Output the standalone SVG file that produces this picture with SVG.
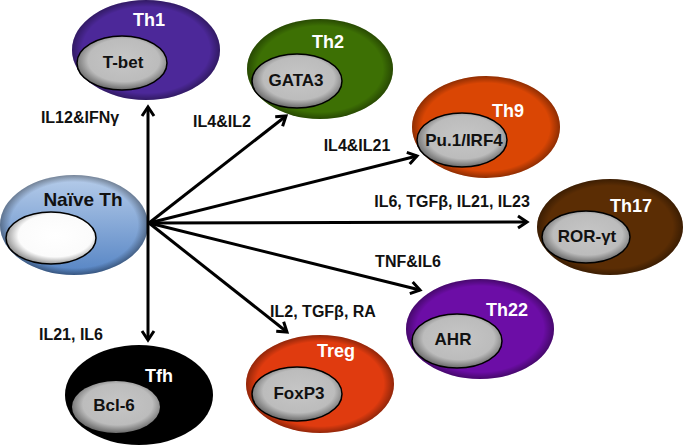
<svg xmlns="http://www.w3.org/2000/svg" width="685" height="445" viewBox="0 0 685 445">
<defs>
<radialGradient id="rim" cx="0.5" cy="0.5" r="0.5">
<stop offset="0.86" stop-color="#000" stop-opacity="0"/>
<stop offset="1" stop-color="#000" stop-opacity="0.35"/>
</radialGradient>
<radialGradient id="grey" cx="0.52" cy="0.45" r="0.55">
<stop offset="0" stop-color="#c6c6c6"/>
<stop offset="0.72" stop-color="#bcbcbc"/>
<stop offset="1" stop-color="#6a6a6a"/>
</radialGradient>
<radialGradient id="white" cx="0.55" cy="0.45" r="0.55">
<stop offset="0" stop-color="#ffffff"/>
<stop offset="0.75" stop-color="#fbfbfb"/>
<stop offset="1" stop-color="#9a9a9a"/>
</radialGradient>
<linearGradient id="blue" x1="0" y1="0" x2="0" y2="1">
<stop offset="0" stop-color="#b7cdea"/>
<stop offset="1" stop-color="#5584c4"/>
</linearGradient>
<marker id="ah" viewBox="-2 -8 14 16" refX="9" refY="0" markerWidth="14" markerHeight="16" markerUnits="userSpaceOnUse" orient="auto-start-reverse">
<path d="M0,-6 L9,0 L0,6" fill="none" stroke="#000" stroke-width="3"/>
</marker>
<style>
.rim{fill:url(#rim)}
.in{fill:url(#grey);stroke:#000;stroke-width:1.5}
.nt{font-family:"Liberation Sans",Arial,sans-serif;font-weight:bold;font-size:18px;fill:#fff;text-anchor:middle}
.it{font-family:"Liberation Sans",Arial,sans-serif;font-weight:bold;font-size:17px;fill:#111;text-anchor:middle}
.lb{font-family:"Liberation Sans",Arial,sans-serif;font-weight:bold;font-size:16px;fill:#111;text-anchor:middle}
.cn{stroke:#000;stroke-width:3;fill:none;marker-end:url(#ah)}
</style>
</defs>

<g id="th1">
<ellipse cx="146" cy="50" rx="74" ry="50" fill="#4c2899"/>
<ellipse class="rim" cx="146" cy="50" rx="74" ry="50"/>
<text class="nt" x="149" y="26">Th1</text>
<ellipse class="in" cx="122" cy="63" rx="45" ry="27"/>
<text class="it" x="123" y="68">T-bet</text>
</g>

<g id="th2">
<ellipse cx="320" cy="69" rx="73" ry="50" fill="#3d7004"/>
<ellipse class="rim" cx="320" cy="69" rx="73" ry="50"/>
<text class="nt" x="328" y="48">Th2</text>
<ellipse class="in" cx="297" cy="81" rx="45" ry="27"/>
<text class="it" x="296" y="86">GATA3</text>
</g>

<g id="th9">
<ellipse cx="486" cy="127" rx="74" ry="51" fill="#da4604"/>
<ellipse class="rim" cx="486" cy="127" rx="74" ry="51"/>
<text class="nt" x="508" y="117">Th9</text>
<ellipse class="in" cx="462" cy="140" rx="45" ry="27"/>
<text class="it" x="464" y="146">Pu.1/IRF4</text>
</g>

<g id="th17">
<ellipse cx="610" cy="227" rx="73" ry="48" fill="#5b2d04"/>
<ellipse class="rim" cx="610" cy="227" rx="73" ry="48"/>
<text class="nt" x="631" y="212">Th17</text>
<ellipse class="in" cx="586" cy="237" rx="44" ry="26"/>
<text class="it" x="587" y="242">ROR-γt</text>
</g>

<g id="th22">
<ellipse cx="480" cy="329" rx="74" ry="50" fill="#6c0da6"/>
<ellipse class="rim" cx="480" cy="329" rx="74" ry="50"/>
<text class="nt" x="507" y="316">Th22</text>
<ellipse class="in" cx="457" cy="341" rx="45" ry="27"/>
<text class="it" x="453" y="345">AHR</text>
</g>

<g id="treg">
<ellipse cx="320" cy="384" rx="74" ry="49" fill="#e03b0f"/>
<ellipse class="rim" cx="320" cy="384" rx="74" ry="49"/>
<text class="nt" x="336" y="357">Treg</text>
<ellipse class="in" cx="297" cy="394" rx="45" ry="27"/>
<text class="it" x="299" y="399">FoxP3</text>
</g>

<g id="tfh">
<ellipse cx="139" cy="395" rx="74" ry="50" fill="#000"/>
<text class="nt" x="159" y="382">Tfh</text>
<ellipse cx="116" cy="407" rx="44" ry="26" fill="url(#grey)"/>
<text class="it" x="114" y="411">Bcl-6</text>
</g>

<g id="naive">
<ellipse cx="74" cy="225" rx="74" ry="50" fill="url(#blue)"/>
<ellipse class="rim" cx="74" cy="225" rx="74" ry="50"/>
<text class="it" style="font-size:19px" x="83" y="206">Naïve Th</text>
<ellipse cx="51" cy="238" rx="45" ry="26" fill="url(#white)" stroke="#000" stroke-width="1.5"/>
</g>

<g id="connectors">
<line class="cn" x1="148" y1="223" x2="148" y2="107"/>
<line class="cn" x1="148" y1="223" x2="148" y2="340"/>
<line class="cn" x1="149" y1="223" x2="286" y2="116"/>
<line class="cn" x1="149" y1="223" x2="417" y2="156"/>
<line class="cn" x1="149" y1="223" x2="527" y2="222"/>
<line class="cn" x1="149" y1="223" x2="420" y2="290"/>
<line class="cn" x1="149" y1="223" x2="287" y2="332"/>
</g>

<g id="labels">
<text class="lb" x="80" y="123">IL12&amp;IFNγ</text>
<text class="lb" x="222" y="127">IL4&amp;IL2</text>
<text class="lb" x="357" y="151">IL4&amp;IL21</text>
<text class="lb" x="452" y="207">IL6, TGFβ, IL21, IL23</text>
<text class="lb" x="408" y="267">TNF&amp;IL6</text>
<text class="lb" x="323" y="317">IL2, TGFβ, RA</text>
<text class="lb" x="71" y="340">IL21, IL6</text>
</g>
</svg>
